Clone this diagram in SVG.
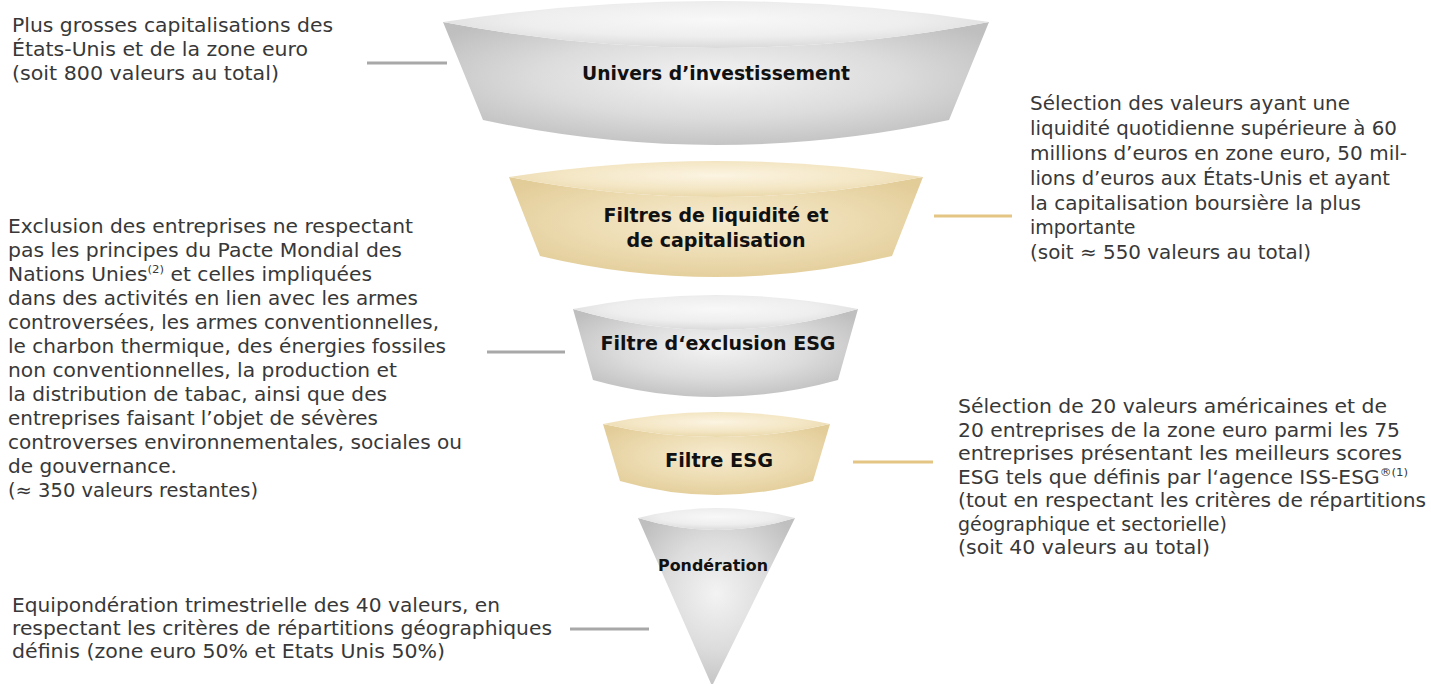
<svg xmlns="http://www.w3.org/2000/svg" width="1431" height="684" viewBox="0 0 1431 684">
<defs>
<radialGradient id="grayBody" cx="50%" cy="45%" r="60%">
<stop offset="0" stop-color="#f3f3f3"/>
<stop offset="0.55" stop-color="#dcdcdc"/>
<stop offset="1" stop-color="#bfbfbf"/>
</radialGradient>
<radialGradient id="grayRim" cx="50%" cy="40%" r="60%">
<stop offset="0" stop-color="#f8f8f8"/>
<stop offset="0.6" stop-color="#eeeeee"/>
<stop offset="1" stop-color="#dadada"/>
</radialGradient>
<radialGradient id="beigeBody" cx="50%" cy="45%" r="60%">
<stop offset="0" stop-color="#f6ebcf"/>
<stop offset="0.55" stop-color="#eddcb2"/>
<stop offset="1" stop-color="#e2cc98"/>
</radialGradient>
<radialGradient id="beigeRim" cx="50%" cy="40%" r="60%">
<stop offset="0" stop-color="#fcf4e2"/>
<stop offset="0.6" stop-color="#f4e7c6"/>
<stop offset="1" stop-color="#ebd9ac"/>
</radialGradient>
</defs>
<style>
.body{font-family:"DejaVu Sans","Liberation Sans",sans-serif;font-size:19px;fill:#383838;}
.lbl{font-family:"DejaVu Sans","Liberation Sans",sans-serif;font-size:19px;font-weight:bold;fill:#111111;text-anchor:middle;}
.sup{font-size:11px;}
.cg{stroke:#a8a8a8;stroke-width:3;fill:none;}
.cb{stroke:#e4c583;stroke-width:3;fill:none;}
</style>

<g id="connectors">
<line class="cg" x1="367" y1="63" x2="447" y2="63"/>
<line class="cb" x1="934" y1="216" x2="1012" y2="216"/>
<line class="cg" x1="487" y1="352" x2="565" y2="352"/>
<line class="cb" x1="853" y1="462" x2="933" y2="462"/>
<line class="cg" x1="570" y1="629" x2="649" y2="629"/>
</g>

<g id="node-univers">
<path d="M443,22 Q716,74 989,22 L949,120 Q716,170 483,120 Z" fill="url(#grayBody)"/>
<path d="M443,22 Q716,-20 989,22 Q716,74 443,22 Z" fill="url(#grayRim)"/>
<text class="lbl" x="716" y="80" textLength="268" lengthAdjust="spacingAndGlyphs">Univers d’investissement</text>
</g>

<g id="node-liquidite">
<path d="M509,177 Q716,217 923,177 L892,256 Q716,298 540,256 Z" fill="url(#beigeBody)"/>
<path d="M509,177 Q716,145 923,177 Q716,217 509,177 Z" fill="url(#beigeRim)"/>
<text class="lbl" x="716" y="222" textLength="225" lengthAdjust="spacingAndGlyphs">Filtres de liquidité et</text>
<text class="lbl" x="716" y="247" textLength="179" lengthAdjust="spacingAndGlyphs">de capitalisation</text>
</g>

<g id="node-exclusion">
<path d="M573,309 Q715.5,351 858,309 L838,380 Q715.5,414 593,380 Z" fill="url(#grayBody)"/>
<path d="M573,309 Q715.5,281 858,309 Q715.5,351 573,309 Z" fill="url(#grayRim)"/>
<text class="lbl" x="718" y="350" textLength="235" lengthAdjust="spacingAndGlyphs">Filtre d‘exclusion ESG</text>
</g>

<g id="node-esg">
<path d="M603,424 Q716.5,450 830,424 L813,481 Q716.5,509 620,481 Z" fill="url(#beigeBody)"/>
<path d="M603,424 Q716.5,400 830,424 Q716.5,450 603,424 Z" fill="url(#beigeRim)"/>
<text class="lbl" x="719" y="467" textLength="108" lengthAdjust="spacingAndGlyphs">Filtre ESG</text>
</g>

<g id="node-ponderation">
<path d="M638,518 Q716.5,542 795,518 L712,686 Z" fill="url(#grayBody)"/>
<path d="M638,518 Q716.5,498 795,518 Q716.5,542 638,518 Z" fill="url(#grayRim)"/>
<text class="lbl" x="713" y="571" style="font-size:16px" textLength="110" lengthAdjust="spacingAndGlyphs">Pondération</text>
</g>

<g id="note-univers">
<text class="body" x="12" y="32" textLength="321" lengthAdjust="spacingAndGlyphs">Plus grosses capitalisations des</text>
<text class="body" x="12" y="56" textLength="296" lengthAdjust="spacingAndGlyphs">États-Unis et de la zone euro</text>
<text class="body" x="12" y="80" textLength="267" lengthAdjust="spacingAndGlyphs">(soit 800 valeurs au total)</text>
</g>

<g id="note-liquidite">
<text class="body" x="1030" y="110" textLength="320" lengthAdjust="spacingAndGlyphs">Sélection des valeurs ayant une</text>
<text class="body" x="1030" y="135" textLength="367" lengthAdjust="spacingAndGlyphs">liquidité quotidienne supérieure à 60</text>
<text class="body" x="1030" y="160" textLength="377" lengthAdjust="spacingAndGlyphs">millions d’euros en zone euro, 50 mil-</text>
<text class="body" x="1030" y="184.5" textLength="360" lengthAdjust="spacingAndGlyphs">lions d’euros aux États-Unis et ayant</text>
<text class="body" x="1030" y="209.5" textLength="331" lengthAdjust="spacingAndGlyphs">la capitalisation boursière la plus</text>
<text class="body" x="1030" y="234">importante</text>
<text class="body" x="1030" y="259" textLength="281" lengthAdjust="spacingAndGlyphs">(soit ≈ 550 valeurs au total)</text>
</g>

<g id="note-exclusion">
<text class="body" x="8" y="233" textLength="405" lengthAdjust="spacingAndGlyphs">Exclusion des entreprises ne respectant</text>
<text class="body" x="8" y="257" textLength="394" lengthAdjust="spacingAndGlyphs">pas les principes du Pacte Mondial des</text>
<text class="body" x="8" y="281" textLength="364" lengthAdjust="spacingAndGlyphs">Nations Unies<tspan class="sup" dy="-8">(2)</tspan><tspan dy="8"> et celles impliquées</tspan></text>
<text class="body" x="8" y="305" textLength="410" lengthAdjust="spacingAndGlyphs">dans des activités en lien avec les armes</text>
<text class="body" x="8" y="329" textLength="431" lengthAdjust="spacingAndGlyphs">controversées, les armes conventionnelles,</text>
<text class="body" x="8" y="353" textLength="438" lengthAdjust="spacingAndGlyphs">le charbon thermique, des énergies fossiles</text>
<text class="body" x="8" y="377" textLength="389" lengthAdjust="spacingAndGlyphs">non conventionnelles, la production et</text>
<text class="body" x="8" y="401" textLength="379" lengthAdjust="spacingAndGlyphs">la distribution de tabac, ainsi que des</text>
<text class="body" x="8" y="425" textLength="370" lengthAdjust="spacingAndGlyphs">entreprises faisant l’objet de sévères</text>
<text class="body" x="8" y="449" textLength="454" lengthAdjust="spacingAndGlyphs">controverses environnementales, sociales ou</text>
<text class="body" x="8" y="473" textLength="169" lengthAdjust="spacingAndGlyphs">de gouvernance.</text>
<text class="body" x="8" y="497" textLength="250" lengthAdjust="spacingAndGlyphs">(≈ 350 valeurs restantes)</text>
</g>

<g id="note-esg">
<text class="body" x="958" y="413" textLength="429" lengthAdjust="spacingAndGlyphs">Sélection de 20 valeurs américaines et de</text>
<text class="body" x="958" y="436.5" textLength="442" lengthAdjust="spacingAndGlyphs">20 entreprises de la zone euro parmi les 75</text>
<text class="body" x="958" y="460" textLength="444" lengthAdjust="spacingAndGlyphs">entreprises présentant les meilleurs scores</text>
<text class="body" x="958" y="483.5" textLength="450" lengthAdjust="spacingAndGlyphs">ESG tels que définis par l‘agence ISS-ESG<tspan class="sup" dy="-8">®(1)</tspan></text>
<text class="body" x="958" y="507" textLength="468" lengthAdjust="spacingAndGlyphs">(tout en respectant les critères de répartitions</text>
<text class="body" x="958" y="530.5">géographique et sectorielle)</text>
<text class="body" x="958" y="554" textLength="252" lengthAdjust="spacingAndGlyphs">(soit 40 valeurs au total)</text>
</g>

<g id="note-ponderation">
<text class="body" x="12" y="612" textLength="488" lengthAdjust="spacingAndGlyphs">Equipondération trimestrielle des 40 valeurs, en</text>
<text class="body" x="12" y="635" textLength="540" lengthAdjust="spacingAndGlyphs">respectant les critères de répartitions géographiques</text>
<text class="body" x="12" y="658" textLength="433" lengthAdjust="spacingAndGlyphs">définis (zone euro 50% et Etats Unis 50%)</text>
</g>
</svg>
